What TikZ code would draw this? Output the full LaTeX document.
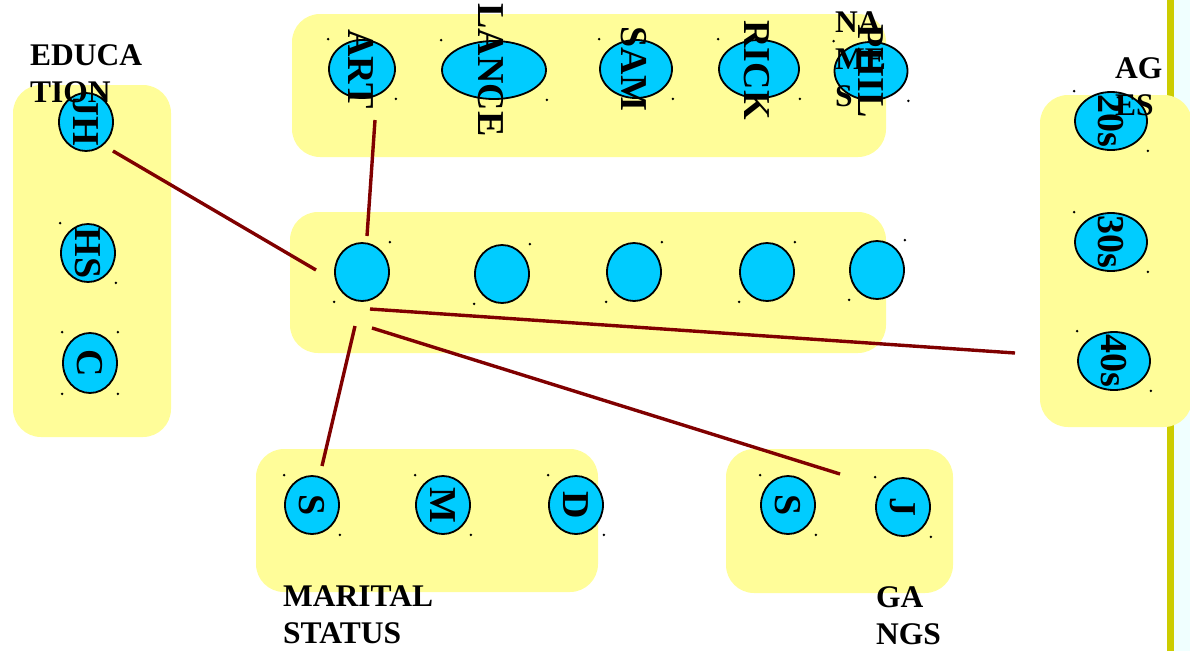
\documentclass[tikz,border=0pt]{standalone}
\usepackage{fontspec}
\setmainfont{Liberation Serif}
\usetikzlibrary{shapes.geometric}
\definecolor{boxyellow}{HTML}{FFFD99}
\definecolor{bubble}{HTML}{00CCFF}
\definecolor{linkred}{HTML}{800000}
\definecolor{barolive}{HTML}{CCCC00}
\definecolor{paleblue}{HTML}{F0FFFF}
% small selection handles at the corners of a bubble
\newcommand\markNWSE[1]{\fill (#1.west |- #1.north) circle (1.4pt) (#1.east |- #1.south) circle (1.4pt);}
\newcommand\markNESW[1]{\fill (#1.east |- #1.north) circle (1.4pt) (#1.west |- #1.south) circle (1.4pt);}
\begin{document}
\begin{tikzpicture}[x=1pt,y=-1pt,
  group/.style={fill=boxyellow, rounded corners=28pt},
  bub/.style={ellipse, draw=black, line width=1.8pt, fill=bubble, inner sep=0pt,
              minimum width=54pt, minimum height=58pt},
  word/.style={rotate=-90, inner sep=0pt, font=\fontsize{38}{38}\selectfont\bfseries},
  title/.style={anchor=north west, inner sep=0pt, align=left,
                font=\fontsize{31.5}{37}\selectfont\bfseries},
  link/.style={draw=linkred, line width=3.4pt}
]
\useasboundingbox (0,0) rectangle (1190,651);

% right margin strip
\fill[paleblue] (1174,0) rectangle (1190,651);
\fill[barolive] (1167,0) rectangle (1174,651);

% group panels
\fill[group] (292,14) rectangle (886,157);
\fill[group] (290,212) rectangle (886,353);
\fill[group] (13,85) rectangle (171,437);
\fill[group] (1040,95) rectangle (1192,427);
\fill[group] (256,449) rectangle (598,592);
\fill[group] (726,449) rectangle (953,593);

% names
\node[bub, minimum width=66pt] (art) at (362,69) {};
\node[bub, minimum width=104pt] (lance) at (494,70) {};
\node[bub, minimum width=72pt] (sam) at (636,69) {};
\node[bub, minimum width=80pt] (rick) at (759,69) {};
\node[bub, minimum width=73pt] (phil) at (871,71) {};
\node[word] (t-art) at (361,69) {ART};
\node[word] (t-lance) at (491,70) {LANCE};
\node[word] (t-sam) at (634,69) {SAM};
\node[word] (t-rick) at (757,70) {RICK};
\node[word] (t-phil) at (871,71) {PHIL};

% people
\node[bub] (p1) at (362,272) {};
\node[bub] (p2) at (502,274) {};
\node[bub] (p3) at (634,272) {};
\node[bub] (p4) at (767,272) {};
\node[bub] (p5) at (877,270) {};

% education
\node[bub] (jh) at (86,122) {};
\node[bub] (hs) at (88,253) {};
\node[bub, minimum height=60pt] (c) at (90,363) {};
\node[word] (t-jh) at (jh) {JH};
\node[word] (t-hs) at (hs) {HS};
\node[word] (t-c) at (c) {C};

% ages
\node[bub, minimum width=72pt] (a20) at (1111,121) {};
\node[bub, minimum width=72pt] (a30) at (1111,242) {};
\node[bub, minimum width=72pt] (a40) at (1114,361) {};
\node[word] (t-a20) at (a20) {20s};
\node[word] (t-a30) at (a30) {30s};
\node[word] (t-a40) at (a40) {40s};

% marital status
\node[bub] (ms) at (312,505) {};
\node[bub] (mm) at (443,505) {};
\node[bub] (md) at (576,505) {};
\node[word] (t-ms) at (ms) {S};
\node[word] (t-mm) at (mm) {M};
\node[word] (t-md) at (md) {D};

% gangs
\node[bub] (gs) at (788,505) {};
\node[bub] (gj) at (903,507) {};
\node[word] (t-gs) at (gs) {S};
\node[word] (t-gj) at (gj) {J};

% handles
\markNWSE{art} \markNWSE{lance} \markNWSE{sam} \markNWSE{rick} \markNWSE{phil}
\markNESW{p1} \markNESW{p2} \markNESW{p3} \markNESW{p4} \markNESW{p5}
\markNWSE{jh} \markNWSE{hs} \markNWSE{c} \markNESW{c}
\markNWSE{a20} \markNWSE{a30} \markNWSE{a40}
\markNWSE{ms} \markNWSE{mm} \markNWSE{md}
\markNWSE{gs} \markNWSE{gj}

% group titles
\node[title] (l-edu) at (30,44) {EDUCA\\TION};
\node[title] (l-names) at (835,12) {NA\\ME\\S};
\node[title] (l-ages) at (1115,57) {AG\\ES};
\node[title] (l-marital) at (283,585) {MARITAL\\STATUS};
\node[title] (l-gangs) at (876,586) {GA\\NGS};

% connector ends
\coordinate (e-jh) at (113,151);
\coordinate (e-p1w) at (316,270);
\coordinate (e-art) at (375,120);
\coordinate (e-p1n) at (367,236);
\coordinate (e-p1e) at (370,309);
\coordinate (e-a40) at (1015,353);
\coordinate (e-p1se) at (372,328);
\coordinate (e-gj) at (840,474);
\coordinate (e-p1s) at (355,326);
\coordinate (e-ms) at (322,466);

% connectors
\draw[link] (e-jh) -- (e-p1w);
\draw[link] (e-art) -- (e-p1n);
\draw[link] (e-p1e) -- (e-a40);
\draw[link] (e-p1se) -- (e-gj);
\draw[link] (e-p1s) -- (e-ms);
\end{tikzpicture}
\end{document}
